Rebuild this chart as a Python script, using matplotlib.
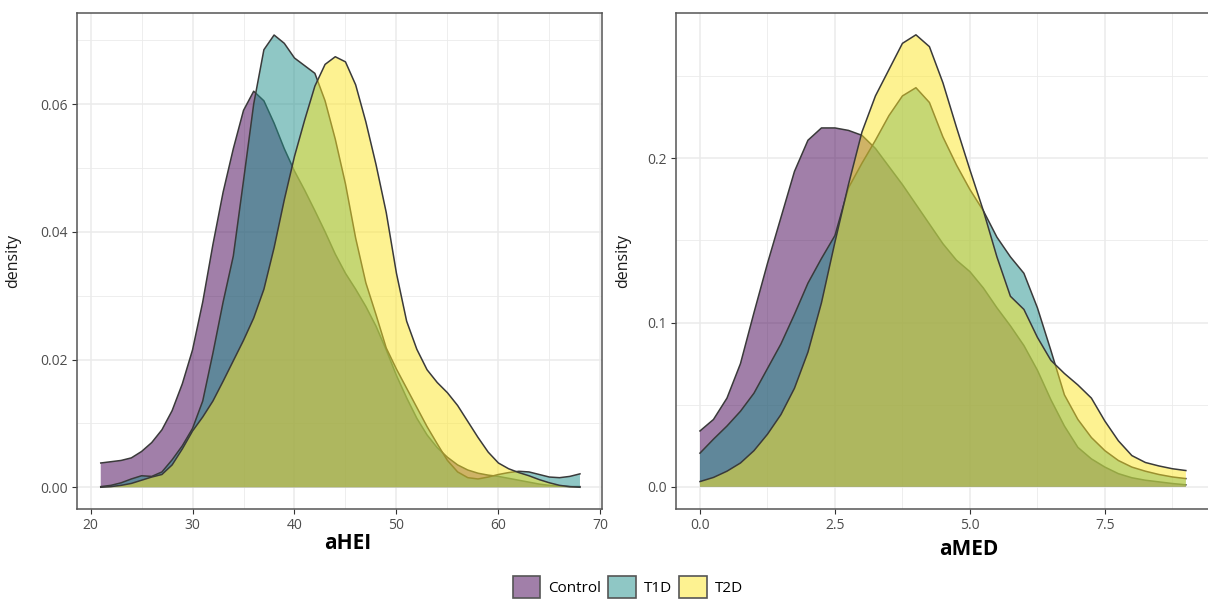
import matplotlib
matplotlib.use("Agg")
import matplotlib.pyplot as plt
from matplotlib.patches import Patch
from matplotlib.colors import to_rgba

plt.rcParams['font.family'] = ['Open Sans', 'DejaVu Sans']

groups = ["Control", "T1D", "T2D"]
fills = ["#440154", "#21908C", "#FDE725"]

# aHEI density readings, x = 21..68
ahei_x = list(range(21, 69))
ahei_control = [0.0038, 0.0040, 0.0042, 0.0046, 0.0056, 0.0070, 0.0090, 0.0120,
                0.0162, 0.0215, 0.0290, 0.0380, 0.0462, 0.0530, 0.0590, 0.0620,
                0.0605, 0.0570, 0.0530, 0.0495, 0.0465, 0.0433, 0.0400, 0.0365,
                0.0335, 0.0310, 0.0283, 0.0252, 0.0215, 0.0175, 0.0140, 0.0108,
                0.0082, 0.0062, 0.0047, 0.0035, 0.0027, 0.0022, 0.0019, 0.0017,
                0.0014, 0.0011, 0.0008, 0.0005, 0.0003, 0.0002, 0.0001, 0.0001]
ahei_t1d = [0.0001, 0.0003, 0.0007, 0.0013, 0.0018, 0.0017, 0.0024, 0.0043,
            0.0065, 0.0092, 0.0135, 0.0210, 0.0290, 0.0362, 0.0480, 0.0600,
            0.0685, 0.0708, 0.0695, 0.0672, 0.0660, 0.0648, 0.0605, 0.0545,
            0.0475, 0.0390, 0.0320, 0.0270, 0.0218, 0.0185, 0.0155, 0.0125,
            0.0095, 0.0068, 0.0042, 0.0024, 0.0015, 0.0013, 0.0016, 0.0020,
            0.0023, 0.0025, 0.0024, 0.0020, 0.0016, 0.0015, 0.0017, 0.0021]
ahei_t2d = [0.0000, 0.0001, 0.0003, 0.0006, 0.0011, 0.0016, 0.0020, 0.0035,
            0.0060, 0.0088, 0.0110, 0.0135, 0.0166, 0.0198, 0.0230, 0.0265,
            0.0310, 0.0375, 0.0450, 0.0518, 0.0575, 0.0628, 0.0662, 0.0674,
            0.0666, 0.0630, 0.0572, 0.0505, 0.0430, 0.0335, 0.0260, 0.0216,
            0.0184, 0.0164, 0.0148, 0.0128, 0.0103, 0.0078, 0.0055, 0.0038,
            0.0029, 0.0023, 0.0018, 0.0012, 0.0007, 0.0003, 0.0001, 0.0000]

# aMED density readings, x = 0..9 by 0.25
amed_x = [0.0, 0.25, 0.5, 0.75, 1.0, 1.25, 1.5, 1.75, 2.0, 2.25, 2.5, 2.75,
          3.0, 3.25, 3.5, 3.75, 4.0, 4.25, 4.5, 4.75, 5.0, 5.25, 5.5, 5.75,
          6.0, 6.25, 6.5, 6.75, 7.0, 7.25, 7.5, 7.75, 8.0, 8.25, 8.5, 8.75, 9.0]
amed_control = [0.034, 0.041, 0.054, 0.075, 0.106, 0.136, 0.164, 0.192, 0.211,
                0.2185, 0.2185, 0.217, 0.214, 0.206, 0.195, 0.184, 0.172, 0.160,
                0.148, 0.138, 0.131, 0.121, 0.109, 0.098, 0.086, 0.071, 0.053,
                0.037, 0.024, 0.017, 0.012, 0.008, 0.0055, 0.004, 0.003, 0.002,
                0.0012]
amed_t1d = [0.0205, 0.029, 0.037, 0.046, 0.057, 0.072, 0.087, 0.105, 0.124,
            0.139, 0.153, 0.182, 0.197, 0.211, 0.226, 0.238, 0.243, 0.234,
            0.213, 0.196, 0.181, 0.168, 0.152, 0.140, 0.130, 0.109, 0.083,
            0.056, 0.041, 0.030, 0.022, 0.016, 0.012, 0.0095, 0.0075, 0.006,
            0.005]
amed_t2d = [0.0032, 0.0057, 0.0095, 0.0145, 0.022, 0.032, 0.044, 0.060, 0.082,
            0.112, 0.149, 0.184, 0.216, 0.238, 0.254, 0.270, 0.2752, 0.268,
            0.246, 0.219, 0.193, 0.168, 0.140, 0.116, 0.108, 0.091, 0.077,
            0.069, 0.062, 0.054, 0.040, 0.028, 0.019, 0.0148, 0.0127, 0.011,
            0.0099]

W, H = 1208, 602
fig = plt.figure(figsize=(W / 100, H / 100), dpi=100)

# panel boxes in pixels: left, top, right, bottom
ax1 = fig.add_axes([77 / W, 1 - 509.3 / H, 525 / W, 496 / H])
ax2 = fig.add_axes([676 / W, 1 - 509.3 / H, 586 / W, 496 / H])


def density_panel(ax, x, series, xlabel):
    # each group: fill then outline, so later fills cover earlier outlines
    z = 2
    for ys, c in zip(series, fills):
        ax.fill_between(x, 0, ys, facecolor=to_rgba(c, 0.5), edgecolor='none',
                        zorder=z)
        ax.plot(x, ys, color='#3a3a3a', lw=1.1, zorder=z + 0.5,
                solid_joinstyle='round')
        z += 1
    ax.set_facecolor('white')
    ax.grid(True, which='major', color='#EBEBEB', lw=1.1, zorder=0)
    ax.grid(True, which='minor', color='#EBEBEB', lw=0.6, zorder=0)
    ax.set_axisbelow(True)
    for s in ax.spines.values():
        s.set_color('#555555')
        s.set_linewidth(1.1)
        s.set_zorder(10)
    ax.tick_params(which='major', length=3.5, width=0.8, color='#333333',
                   labelsize=10, labelcolor='#4D4D4D', pad=3)
    ax.tick_params(which='minor', length=0)
    ax.set_ylabel('density', fontsize=11.5, color='#1a1a1a', labelpad=4)
    ax.set_xlabel(xlabel, fontsize=15, fontweight='bold', color='black', labelpad=2)


density_panel(ax1, ahei_x, [ahei_control, ahei_t1d, ahei_t2d], 'aHEI')
ax1.set_xlim(18.67, 70.16)
ax1.set_ylim(-0.00345, 0.0742)
ax1.set_xticks([20, 30, 40, 50, 60, 70])
ax1.set_xticks([25, 35, 45, 55, 65], minor=True)
ax1.set_yticks([0, 0.02, 0.04, 0.06])
ax1.set_yticklabels(['0.00', '0.02', '0.04', '0.06'])
ax1.set_yticks([0.01, 0.03, 0.05, 0.07], minor=True)
ax1.xaxis.set_label_coords(0.516, -0.048)
ax1.xaxis.label.set_va('top')
ax1.yaxis.set_label_coords(-0.107, 0.5)

density_panel(ax2, amed_x, [amed_control, amed_t1d, amed_t2d], 'aMED')
ax2.set_xlim(-0.444, 10.41)
ax2.set_ylim(-0.0137, 0.2883)
ax2.set_xticks([0, 2.5, 5, 7.5])
ax2.set_xticklabels(['0.0', '2.5', '5.0', '7.5'])
ax2.set_xticks([1.25, 3.75, 6.25, 8.75], minor=True)
ax2.set_yticks([0, 0.1, 0.2])
ax2.set_yticklabels(['0.0', '0.1', '0.2'])
ax2.set_yticks([0.05, 0.15, 0.25], minor=True)
ax2.xaxis.set_label_coords(0.5, -0.06)
ax2.xaxis.label.set_va('top')
ax2.yaxis.set_label_coords(-0.077, 0.5)

handles = [Patch(facecolor=to_rgba(c, 0.5), edgecolor='#555555', linewidth=1.2)
           for c in fills]
fig.legend(handles, groups, loc='center', bbox_to_anchor=(628 / W, 1 - 587 / H),
           ncol=3, frameon=False, fontsize=11, handlelength=1.8,
           handleheight=1.8, handletextpad=0.55, columnspacing=0.45)

fig.savefig('out.png', dpi=100, facecolor='white')
